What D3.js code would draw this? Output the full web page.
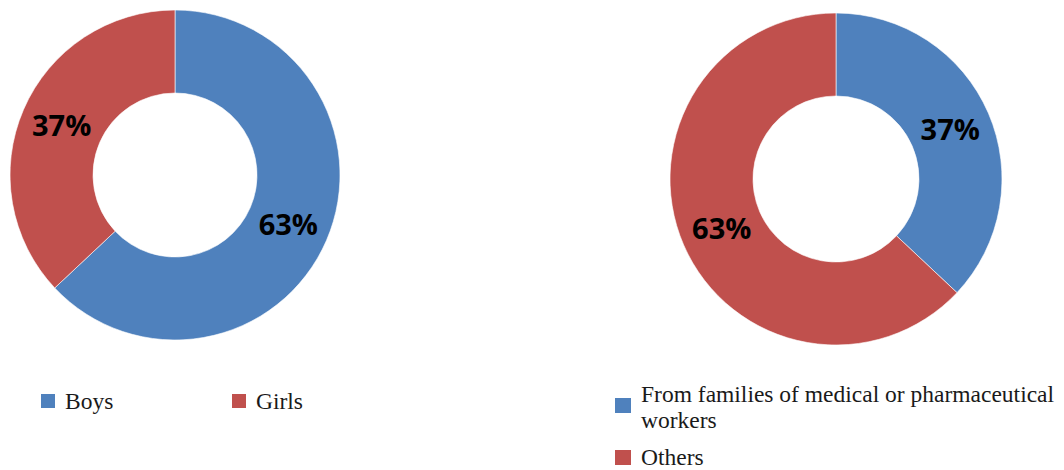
<!DOCTYPE html>
<html>
<head>
<meta charset="utf-8">
<script src="https://cdn.jsdelivr.net/npm/d3@7"></script>
<style>
  html, body { margin: 0; padding: 0; background: #fff; }
  svg { display: block; }
  .legend-text { font-family: "Liberation Serif", "Times New Roman", serif; font-size: 23.5px; fill: #1a1a1a; }
  .value-label { font-family: "Open Sans", sans-serif; font-weight: 700; font-size: 29px; fill: #000; }
</style>
</head>
<body>
<svg id="chart" width="1064" height="470"></svg>
<script>
// Gender split of respondents
const genderLabels = ["Boys", "Girls"];
const genderValues = [63, 37];

// Family background of respondents
const familyLabels = ["From families of medical or pharmaceutical workers", "Others"];
const familyLegendLines = [["From families of medical or pharmaceutical", "workers"], ["Others"]];
const familyValues = [37, 63];

const seriesColors = ["#4F81BD", "#C0504D"];

const svg = d3.select("#chart");

function donut(cx, cy, outerR, innerR, labels, values) {
  const color = d3.scaleOrdinal().domain(labels).range(seriesColors);
  const pie = d3.pie().sort(null).value(d => d.value);
  const arc = d3.arc().innerRadius(innerR).outerRadius(outerR);
  const data = labels.map((l, i) => ({ label: l, value: values[i] }));
  const g = svg.append("g").attr("transform", `translate(${cx},${cy})`);
  const arcs = pie(data);
  g.selectAll("path").data(arcs).join("path")
    .attr("d", arc)
    .attr("fill", d => color(d.data.label))
    .attr("stroke", "#ffffff")
    .attr("stroke-width", 0.6);
  g.selectAll("text").data(arcs).join("text")
    .attr("class", "value-label")
    .attr("transform", d => `translate(${arc.centroid(d)})`)
    .attr("text-anchor", "middle")
    .attr("dy", "0.36em")
    .text(d => d.data.value + "%");
}

donut(175, 175, 165, 82, genderLabels, genderValues);
donut(836, 179, 166, 83, familyLabels, familyValues);

// Left legend: single row
const genderLegendX = [41, 232];
genderLabels.forEach((l, i) => {
  const g = svg.append("g").attr("transform", `translate(${genderLegendX[i]},394)`);
  g.append("rect").attr("width", 14).attr("height", 14).attr("fill", seriesColors[i]);
  g.append("text").attr("class", "legend-text").attr("x", 24).attr("y", 15).text(l);
});

// Right legend: stacked entries, first one wraps onto two lines
const familyLegendY = [398, 450];
familyLegendLines.forEach((lines, i) => {
  const g = svg.append("g").attr("transform", `translate(615,${familyLegendY[i]})`);
  g.append("rect").attr("width", 16).attr("height", 15).attr("fill", seriesColors[i]);
  const t = g.append("text").attr("class", "legend-text");
  const firstY = lines.length > 1 ? 4 : 15;
  lines.forEach((line, j) => {
    t.append("tspan").attr("x", 26).attr("y", firstY + j * 26).text(line);
  });
});
</script>
</body>
</html>
